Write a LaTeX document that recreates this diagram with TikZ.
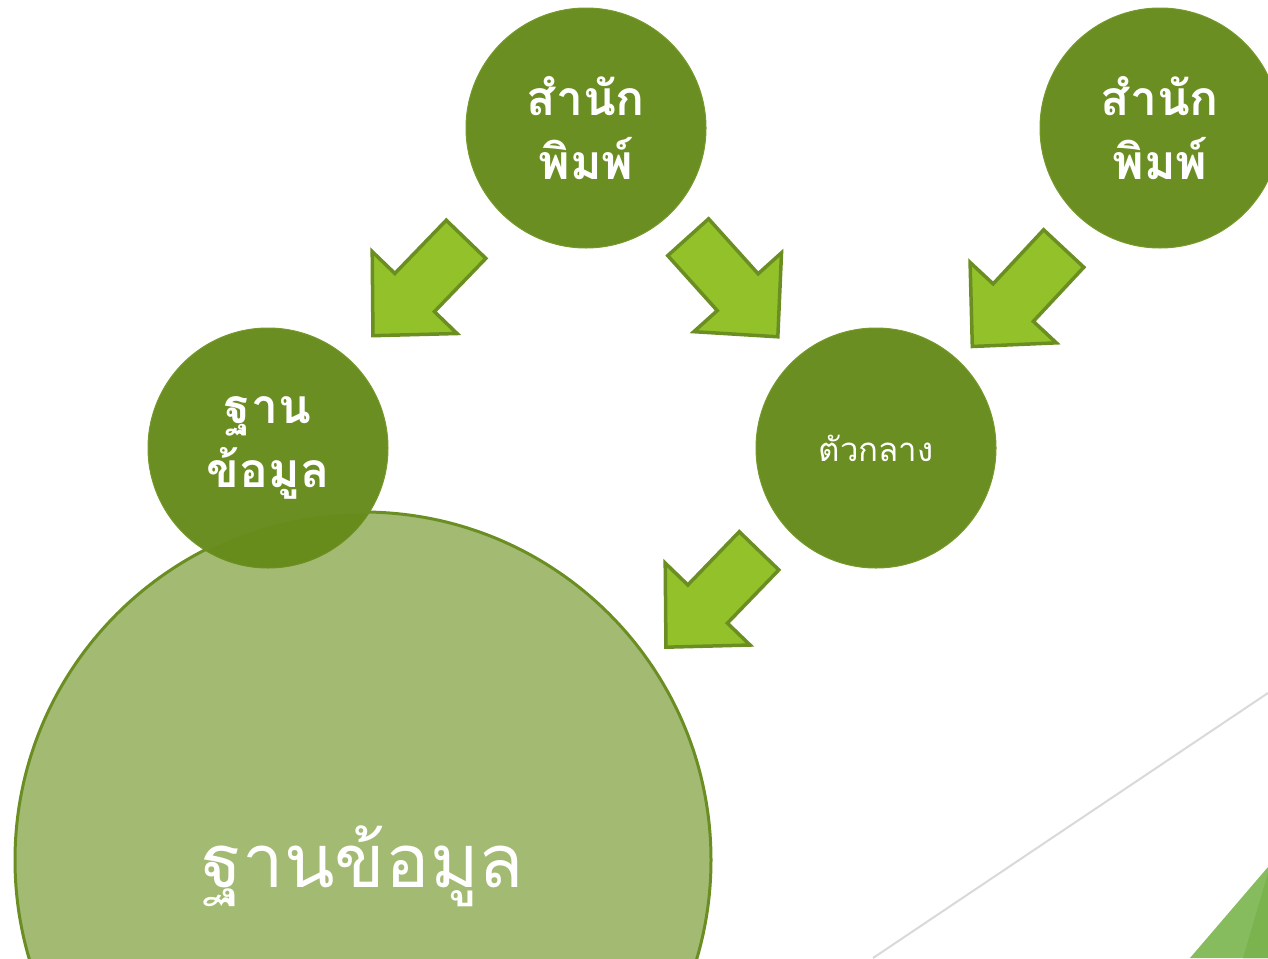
\documentclass[tikz,border=0pt]{standalone}
\usepackage{fontspec}
\newfontfamily\thaifont[Script=Thai]{Loma}
\definecolor{leafdark}{HTML}{6B8E23}
\definecolor{leafrim}{HTML}{76992C}
\definecolor{leaflight}{HTML}{92C12A}
\definecolor{dbfill}{HTML}{668C16}
\definecolor{cornerA}{HTML}{86BC5E}
\definecolor{cornerB}{HTML}{7BB34E}
\definecolor{rule}{HTML}{D9D9D9}

\begin{document}
\begin{tikzpicture}[x=0.5pt,y=-0.5pt,
		circ/.style={circle,fill=leafdark,draw=leafrim,line width=0.5pt,minimum size=120pt,inner sep=0pt,
			text=white,align=center,font=\thaifont\bfseries\fontsize{24}{32}\selectfont},
		bigcirc/.style={circle,fill=dbfill,fill opacity=0.6,text opacity=1,draw=leafdark,line width=1.5pt,
			minimum size=348pt,inner sep=0pt,text=white,font=\thaifont\fontsize{37}{44}\selectfont},
		arrowshape/.style={fill=leaflight,draw=leafdark,line width=1.75pt,line join=miter},
		flowarrow/.pic={\draw[arrowshape] (67,0) -- (7,59) -- (7,27.5) -- (-67,27.5) -- (-67,-27.5) -- (7,-27.5) -- (7,-59) -- cycle;}]
	\useasboundingbox (0,0) rectangle (1268,958);
	\clip (0,0) rectangle (1268,958);
	% background
	\draw[rule,line width=1pt] (873,958) -- (1268,693);
	\fill[cornerA] (1190,958) -- (1268,867) -- (1268,958) -- cycle;
	\fill[cornerB] (1243,958) -- (1268,873) -- (1268,958) -- cycle;
	% circles
	\node[circ] (db) at (268,448) {ฐาน\\ข้อมูล};
	\node[bigcirc] (bigdb) at (363,860) {\raisebox{-3pt}[\dimexpr\height+3pt][\dimexpr\depth+3pt]{ฐานข้อมูล}};
	\node[circ] (pub1) at (586,128) {สำนัก\\พิมพ์};
	\node[circ] (pub2) at (1160,128) {สำนัก\\พิมพ์};
	\node[circ,font=\thaifont\fontsize{16.5}{20}\selectfont] (mid) at (876,448) {ตัวกลาง};
	% arrows
	\pic[rotate=226] (pubtodb) at (419.5,287.5) {flowarrow};
	\pic[rotate=-48] (pubtomid) at (733,287) {flowarrow};
	\pic[rotate=227] (pubbtomid) at (1018,297.5) {flowarrow};
	\pic[rotate=226] (midtodb) at (712.5,599) {flowarrow};
\end{tikzpicture}
\end{document}
